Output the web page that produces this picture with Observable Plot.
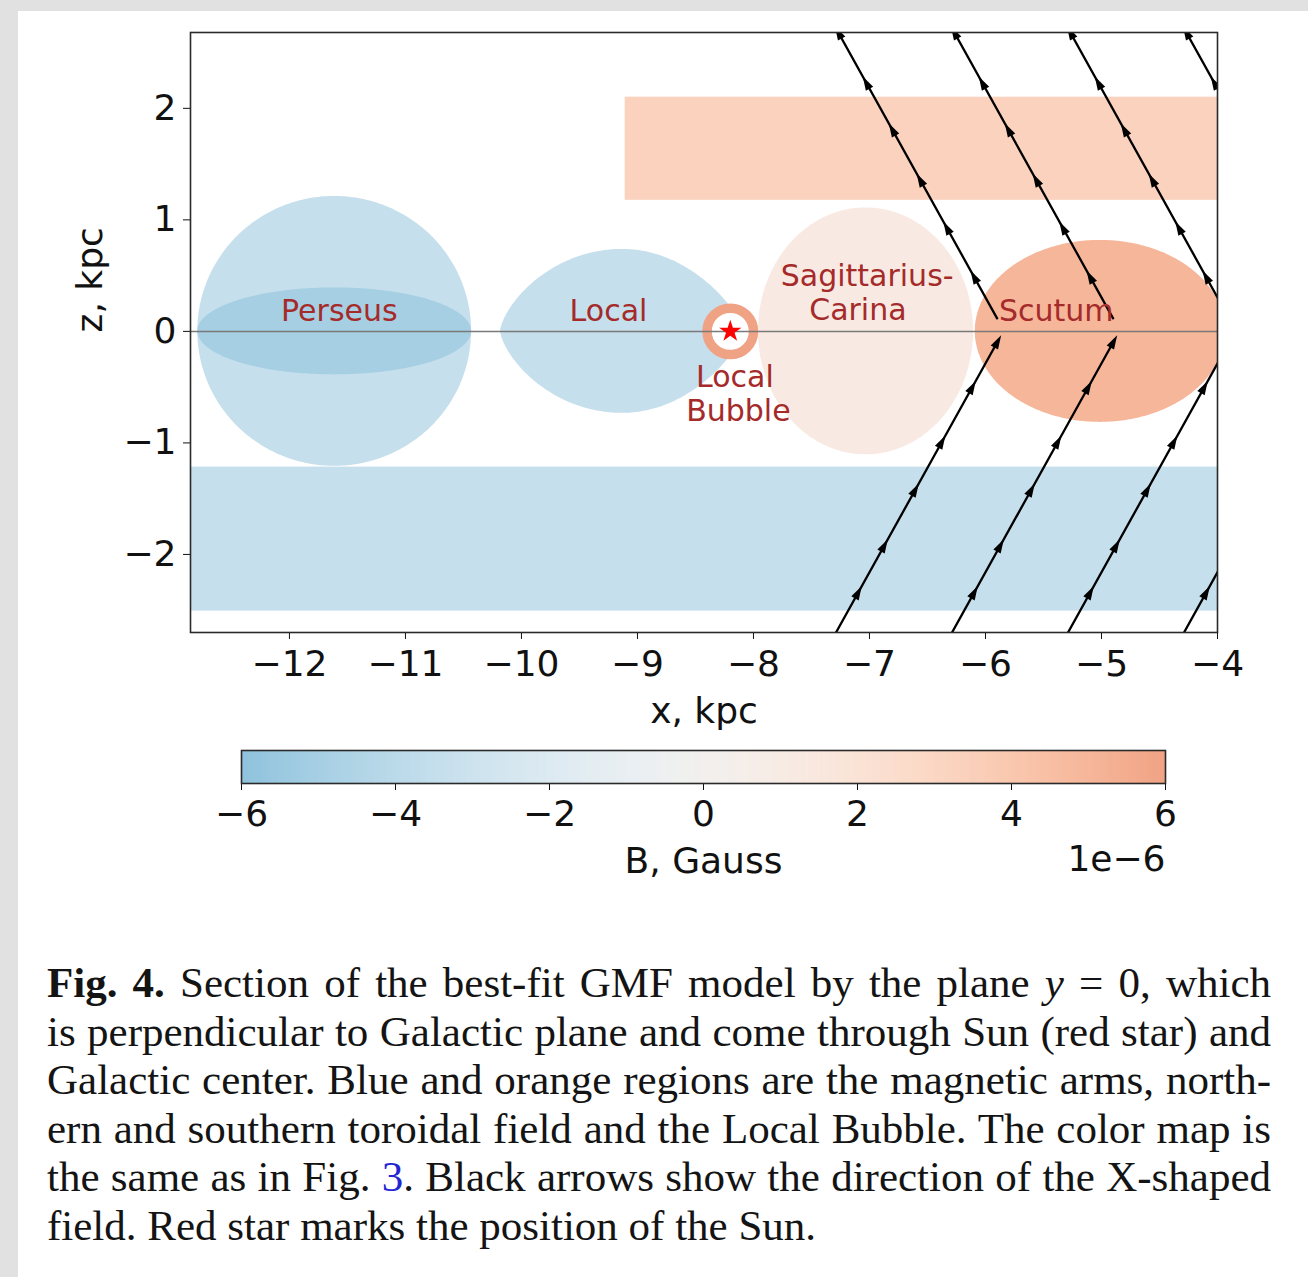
<!DOCTYPE html>
<html>
<head>
<meta charset="utf-8">
<script src="https://cdn.jsdelivr.net/npm/d3@7"></script>
<script src="https://cdn.jsdelivr.net/npm/@observablehq/plot@0.6"></script>
<style>
  html, body { margin: 0; padding: 0; background: #e1e1e1; overflow: hidden; }
  body { width: 1308px; height: 1277px; position: relative; }
  #panel { position: absolute; left: 18px; top: 11px; width: 1290px; height: 1266px; background: #ffffff; }
  #chart { position: absolute; left: 0; top: 0; }
  #cbar { position: absolute; left: 0; top: 740px; }
  #caption { position: absolute; left: 47px; top: 959px; width: 1224px;
             font-family: "Liberation Serif", "Times New Roman", serif; font-size: 43px;
             line-height: 48.5px; color: #141414; }
  .capline { white-space: nowrap; height: 48.5px; }
</style>
</head>
<body>
<div id="panel"></div>
<div id="chart"></div>
<div id="cbar"></div>
<div id="caption"></div>
<script>
// ---------------- data (kpc, field in µG) ----------------
const xDomain = [-12.853, -4];
const zDomain = [-2.70, 2.68];
const xTicks = [-12, -11, -10, -9, -8, -7, -6, -5, -4];
const zTicks = [-2, -1, 0, 1, 2];
const cbarTicks = [-6, -4, -2, 0, 2, 4, 6];

// elliptical arm cross-sections
const ellName = ["Perseus halo", "Perseus disk", "Sagittarius-Carina", "Scutum"];
const ellX = [-11.61, -11.61, -7.03, -5.01];
const ellZ = [0, 0, 0, 0];
const ellRx = [1.18, 1.18, 0.927, 1.078];
const ellRz = [1.21, 0.39, 1.107, 0.816];
const ellB = [-3.4, -5.0, 1.2, 5.0];

// lens-shaped Local arm
const lensName = ["Local"];
const lensXLeft = [-10.18];
const lensXRight = [-8.08];
const lensZHalf = [0.735];
const lensB = [-3.4];

// toroidal halo bands
const bandName = ["Northern toroidal", "Southern toroidal"];
const bandX1 = [-9.106, -13];
const bandX2 = [-3.5, -3.5];
const bandZ1 = [1.175, -2.508];
const bandZ2 = [2.10, -1.217];
const bandB = [3.3, -3.4];

// Local Bubble and the Sun
const bubbleX = [-8.2];
const bubbleZ = [0];
const bubbleB = [6.0];
const sunX = [-8.2];
const sunZ = [0];

// X-shaped field lines: x where each line meets the plane, tilt dx/d|z|
const fieldX0 = [-5.9, -4.9, -3.9, -2.9];
const fieldTilt = 0.534;
const fieldZ0North = 0.117;
const fieldZ0South = -0.10;
const arrowZNorth = [0.48, 0.92, 1.35, 1.80, 2.22, 2.67];
const arrowZSouth = [-0.10, -0.51, -1.00, -1.43, -1.93, -2.35];

// labels
const labelText = ["Perseus", "Local", "Sagittarius-", "Carina", "Scutum", "Local", "Bubble"];
const labelX = [-11.57, -9.25, -7.02, -7.10, -5.39, -8.16, -8.13];
const labelZ = [0.18, 0.18, 0.49, 0.185, 0.18, -0.41, -0.72];

// caption lines
const captionLines = [
  '<b>Fig. 4.</b> Section of the best-fit GMF model by the plane <i>y</i> = 0, which',
  'is perpendicular to Galactic plane and come through Sun (red star) and',
  'Galactic center. Blue and orange regions are the magnetic arms, north-',
  'ern and southern toroidal field and the Local Bubble. The color map is',
  'the same as in Fig. <span style="color:#2424d4">3</span>. Black arrows show the direction of the X-shaped',
  'field. Red star marks the position of the Sun.'
];

// ---------------- build tables ----------------
const fmt = d3.format("d");
const colorOpts = { type: "linear", domain: [-6, 6], interpolate: t => d3.interpolateRdBu(0.7 - 0.4 * t) };

const N = 160;
const regions = [];
ellName.forEach((name, i) => {
  for (let k = 0; k <= N; k++) {
    const th = Math.PI * (1 - k / N);
    const h = ellRz[i] * Math.sin(th);
    regions.push({ name, B: ellB[i], x: ellX[i] + ellRx[i] * Math.cos(th), lo: ellZ[i] - h, hi: ellZ[i] + h });
  }
  if (i === 1) {
    lensName.forEach((ln, j) => {
      const c = (lensXLeft[j] + lensXRight[j]) / 2, hw = (lensXRight[j] - lensXLeft[j]) / 2;
      for (let k = 0; k <= N; k++) {
        const u = Math.cos(Math.PI * (1 - k / N));
        const q = u < 0 ? 0.68 : 0.78;
        const h = lensZHalf[j] * Math.pow(Math.max(0, 1 - u * u), q);
        regions.push({ name: ln, B: lensB[j], x: c + hw * u, lo: -h, hi: h });
      }
    });
  }
});

const bands = bandName.map((name, i) => ({ name, x1: bandX1[i], x2: bandX2[i], z1: bandZ1[i], z2: bandZ2[i], B: bandB[i] }));

const fieldLines = [];
const headsN = [], headsS = [];
fieldX0.forEach((x0, i) => {
  [fieldZ0North, 3.2].forEach(z => fieldLines.push({ id: "n" + i, x: x0 - fieldTilt * (z - fieldZ0North), z }));
  [fieldZ0South, -3.2].forEach(z => fieldLines.push({ id: "s" + i, x: x0 - fieldTilt * (-z + fieldZ0South), z }));
  arrowZNorth.forEach(z => headsN.push({ x: x0 - fieldTilt * (z - fieldZ0North), z }));
  arrowZSouth.forEach(z => headsS.push({ x: x0 - fieldTilt * (-z + fieldZ0South), z }));
});

const labels = labelText.map((t, i) => ({ t, x: labelX[i], z: labelZ[i] }));
const bubble = bubbleX.map((x, i) => ({ x, z: bubbleZ[i], B: bubbleB[i] }));
const sun = sunX.map((x, i) => ({ x, z: sunZ[i] }));

// ---------------- main chart ----------------
const W = 1308, H = 745, mL = 190, mR = 91, mT = 32, mB = 113;
const pxPerX = (W - mL - mR) / (xDomain[1] - xDomain[0]);
const pxPerZ = (H - mT - mB) / (zDomain[1] - zDomain[0]);
const tiltDeg = Math.atan(fieldTilt * pxPerX / pxPerZ) * 180 / Math.PI;

function arrowHead(angleDeg) {
  const a = angleDeg * Math.PI / 180;
  const ux = Math.sin(a), uy = -Math.cos(a);
  const px = -uy, py = ux;
  const L = 14, Wd = 4.2;
  return {
    draw(ctx) {
      ctx.moveTo(ux * L * 0.6, uy * L * 0.6);
      ctx.lineTo(-ux * L * 0.4 + px * Wd, -uy * L * 0.4 + py * Wd);
      ctx.lineTo(-ux * L * 0.4 - px * Wd, -uy * L * 0.4 - py * Wd);
      ctx.closePath();
    }
  };
}

const chart = Plot.plot({
  width: W, height: H,
  marginLeft: mL, marginRight: mR, marginTop: mT, marginBottom: mB,
  style: { background: "transparent", fontFamily: "DejaVu Sans, sans-serif", fontSize: "36px", color: "#111" },
  x: { domain: xDomain, ticks: xTicks, tickFormat: fmt, tickSize: 7, tickPadding: 11, label: null },
  y: { domain: zDomain, ticks: zTicks, tickFormat: fmt, tickSize: 7, tickPadding: 7, label: null },
  color: colorOpts,
  marks: [
    Plot.rect(bands, { x1: "x1", x2: "x2", y1: "z1", y2: "z2", fill: "B", clip: true }),
    Plot.area(regions, { x1: "x", y1: "lo", y2: "hi", z: "name", fill: "B", clip: true }),
    Plot.dot(bubble, { x: "x", y: "z", r: 23.2, stroke: "B", strokeWidth: 9.5, fill: "white" }),
    Plot.ruleY([0], { stroke: "#7a7a7a", strokeWidth: 1.5 }),
    Plot.line(fieldLines, { x: "x", y: "z", z: "id", stroke: "#000", strokeWidth: 2.3, clip: true }),
    Plot.dot(headsN, { x: "x", y: "z", symbol: arrowHead(-tiltDeg), fill: "#000", stroke: "none", r: 5, clip: true }),
    Plot.dot(headsS, { x: "x", y: "z", symbol: arrowHead(tiltDeg), fill: "#000", stroke: "none", r: 5, clip: true }),
    Plot.text(labels, { x: "x", y: "z", text: "t", fill: "#a52a2a", fontSize: 30 }),
    Plot.dot(sun, { x: "x", y: "z", symbol: "star", r: 7, fill: "#ff0000", stroke: "none" }),
    Plot.frame({ stroke: "#2a2a2a", strokeWidth: 1.6 }),
    Plot.text(["x, kpc"], { text: d => d, frameAnchor: "bottom", dy: 90.5, fontSize: 36, fill: "#111" }),
    Plot.text(["z, kpc"], { text: d => d, frameAnchor: "left", rotate: -90, dx: -100, fontSize: 36, fill: "#111" })
  ]
});
document.getElementById("chart").appendChild(chart);

// ---------------- colorbar ----------------
const cbStep = 0.04;
const cbCells = d3.range(-6, 6, cbStep);
const cbar = Plot.plot({
  width: W, height: 140,
  marginLeft: 241, marginRight: 143, marginTop: 10, marginBottom: 97,
  style: { background: "transparent", fontFamily: "DejaVu Sans, sans-serif", fontSize: "36px", color: "#111" },
  x: { domain: [-6, 6], ticks: cbarTicks, tickFormat: fmt, tickSize: 7, tickPadding: 10, label: null },
  y: { domain: [0, 1], axis: null },
  color: colorOpts,
  marks: [
    Plot.rect(cbCells, { x1: d => d, x2: d => d + cbStep * 2, y1: 0, y2: 1, fill: d => d + cbStep / 2, clip: true }),
    Plot.frame({ stroke: "#2a2a2a", strokeWidth: 1.6 }),
    Plot.text(["B, Gauss"], { text: d => d, frameAnchor: "bottom", dy: 89.5, fontSize: 36, fill: "#111" }),
    Plot.text(["1e\u22126"], { text: d => d, frameAnchor: "bottom-right", textAnchor: "end", dy: 87.5, fontSize: 36, fill: "#111" })
  ]
});
document.getElementById("cbar").appendChild(cbar);

// ---------------- caption ----------------
const cap = document.getElementById("caption");
captionLines.forEach((html, i) => {
  const div = document.createElement("div");
  div.className = "capline";
  const span = document.createElement("span");
  span.innerHTML = html;
  div.appendChild(span);
  cap.appendChild(div);
  if (i < captionLines.length - 1) {
    const w = span.getBoundingClientRect().width;
    const n = (span.textContent.match(/ /g) || []).length;
    span.style.wordSpacing = ((1224 - w) / n) + "px";
  }
});
</script>
</body>
</html>
